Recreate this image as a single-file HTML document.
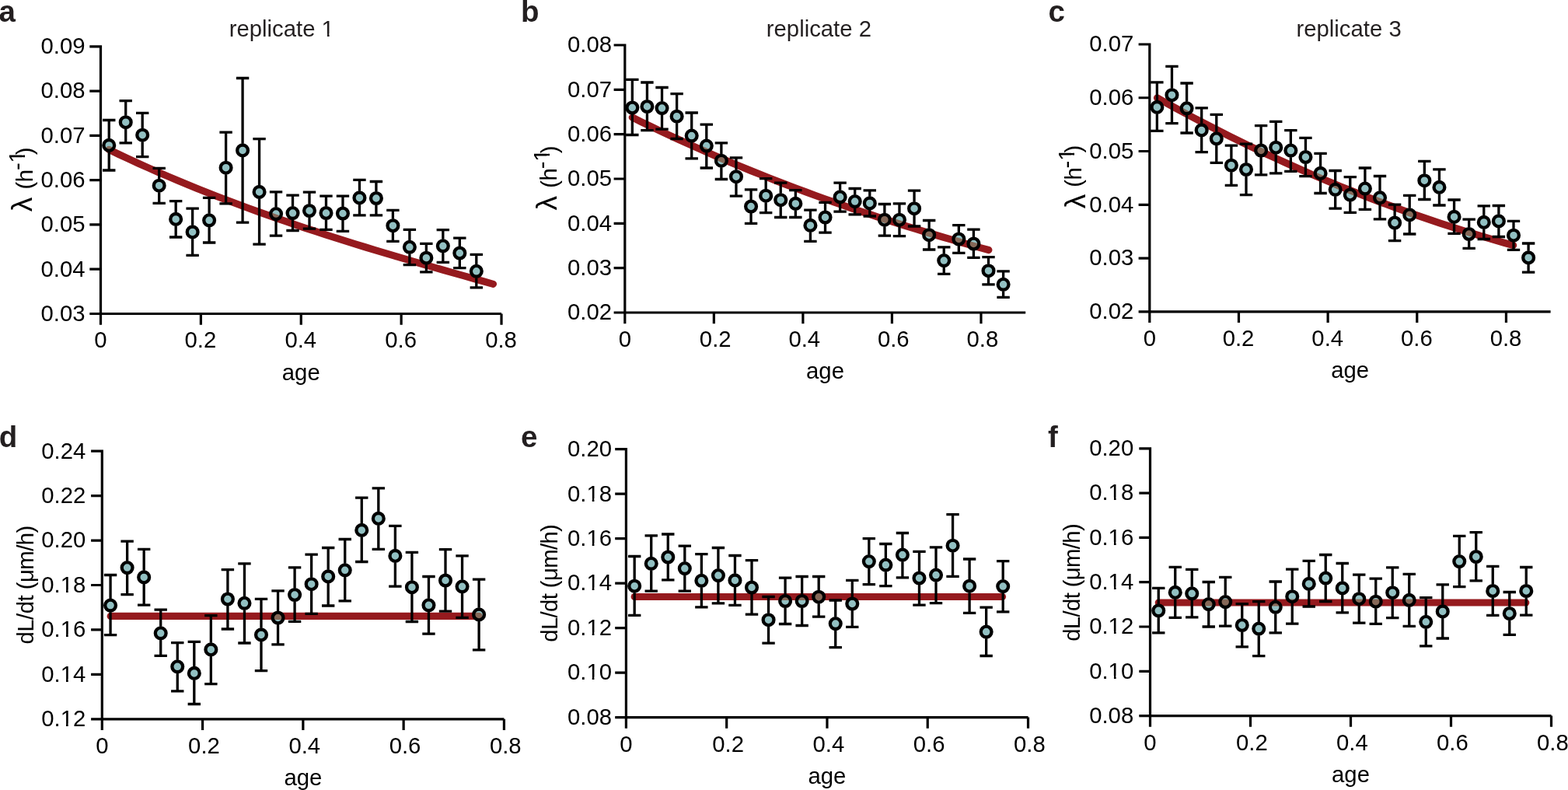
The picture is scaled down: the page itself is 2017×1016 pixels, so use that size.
<!DOCTYPE html><html><head><meta charset="utf-8"><title>Figure</title><style>html,body{margin:0;padding:0;background:#fff;width:2017px;height:1016px;overflow:hidden}svg{display:block}</style></head><body><svg width="2017" height="1016" viewBox="0 0 2017 1016" font-family="'Liberation Sans', Arial, Helvetica, sans-serif"><rect width="2017" height="1016" fill="#fff"/><defs><clipPath id="one" clipPathUnits="userSpaceOnUse"><rect x="-10" y="-40" width="50" height="36.21"/><rect x="7.37" y="-5" width="2.59" height="10"/></clipPath></defs><g id="pa"><path d="M140.2 192.45 L152.87 198.49 L165.54 204.4 L178.22 210.2 L190.89 215.88 L203.56 221.44 L216.23 226.9 L228.9 232.26 L241.57 237.5 L254.25 242.65 L266.92 247.7 L279.59 252.66 L292.26 257.53 L304.93 262.31 L317.61 267 L330.28 271.61 L342.95 276.14 L355.62 280.59 L368.29 284.97 L380.96 289.28 L393.64 293.53 L406.31 297.7 L418.98 301.82 L431.65 305.88 L444.32 309.88 L456.99 313.84 L469.67 317.74 L482.34 321.59 L495.01 325.4 L507.68 329.18 L520.35 332.91 L533.03 336.61 L545.7 340.28 L558.37 343.92 L571.04 347.53 L583.71 351.12 L596.38 354.69 L609.06 358.25 L621.73 361.79 L634.4 365.32" fill="none" stroke="#951a1e" stroke-width="9.2" stroke-linecap="round" stroke-linejoin="round"/><path d="M129.5 58.2 V417.7 M115.3 403.5 H645 M115.3 403.5 H129.5 M115.3 346.22 H129.5 M115.3 288.94 H129.5 M115.3 231.66 H129.5 M115.3 174.38 H129.5 M115.3 117.1 H129.5 M115.3 59.82 H129.5 M129.5 403.5 V417.7 M258.38 403.5 V417.7 M387.26 403.5 V417.7 M516.14 403.5 V417.7 M645.02 403.5 V417.7" fill="none" stroke="#000" stroke-width="3.2"/><path d="M140.24 154.5 V178.35 M140.24 195.45 V219 M132.04 154.5 H148.44 M132.04 219 H148.44 M161.72 129.6 V148.65 M161.72 165.75 V183.9 M153.52 129.6 H169.92 M153.52 183.9 H169.92 M183.2 145.4 V165.15 M183.2 182.25 V201.6 M175 145.4 H191.4 M175 201.6 H191.4 M204.68 216.3 V230.15 M204.68 247.25 V261.3 M196.48 216.3 H212.88 M196.48 261.3 H212.88 M226.16 258.6 V273.35 M226.16 290.45 V305 M217.96 258.6 H234.36 M217.96 305 H234.36 M247.64 268.2 V289.85 M247.64 306.95 V328.3 M239.44 268.2 H255.84 M239.44 328.3 H255.84 M269.12 254.4 V274.75 M269.12 291.85 V312 M260.92 254.4 H277.32 M260.92 312 H277.32 M290.6 170.1 V207.15 M290.6 224.25 V261.8 M282.4 170.1 H298.8 M282.4 261.8 H298.8 M312.08 100.5 V184.85 M312.08 201.95 V286.1 M303.88 100.5 H320.28 M303.88 286.1 H320.28 M333.56 178.6 V238.35 M333.56 255.45 V314.2 M325.36 178.6 H341.76 M325.36 314.2 H341.76 M355.04 246.9 V266.55 M355.04 283.65 V303.2 M346.84 246.9 H363.24 M346.84 303.2 H363.24 M376.52 251.1 V265.55 M376.52 282.65 V296.5 M368.32 251.1 H384.72 M368.32 296.5 H384.72 M398 247.1 V262.45 M398 279.55 V294.1 M389.8 247.1 H406.2 M389.8 294.1 H406.2 M419.48 252.2 V265.45 M419.48 282.55 V295.4 M411.28 252.2 H427.68 M411.28 295.4 H427.68 M440.96 252.2 V265.95 M440.96 283.05 V297.3 M432.76 252.2 H449.16 M432.76 297.3 H449.16 M462.44 231.4 V245.85 M462.44 262.95 V276.8 M454.24 231.4 H470.64 M454.24 276.8 H470.64 M483.92 233.5 V246.45 M483.92 263.55 V276.8 M475.72 233.5 H492.12 M475.72 276.8 H492.12 M505.4 270.3 V281.65 M505.4 298.75 V310.3 M497.2 270.3 H513.6 M497.2 310.3 H513.6 M526.88 295.4 V309.25 M526.88 326.35 V340.6 M518.68 295.4 H535.08 M518.68 340.6 H535.08 M548.36 313.4 V323.15 M548.36 340.25 V349.8 M540.16 313.4 H556.56 M540.16 349.8 H556.56 M569.84 295.7 V307.75 M569.84 324.85 V337.4 M561.64 295.7 H578.04 M561.64 337.4 H578.04 M591.32 306.1 V316.95 M591.32 334.05 V344.7 M583.12 306.1 H599.52 M583.12 344.7 H599.52 M612.8 327.4 V340.25 M612.8 357.35 V369.9 M604.6 327.4 H621 M604.6 369.9 H621" fill="none" stroke="#000" stroke-width="3.3"/><g fill="#92c0c2"><circle cx="140.24" cy="186.9" r="6.9"/><circle cx="161.72" cy="157.2" r="6.9"/><circle cx="183.2" cy="173.7" r="6.9"/><circle cx="204.68" cy="238.7" r="6.9"/><circle cx="226.16" cy="281.9" r="6.9"/><circle cx="247.64" cy="298.4" r="6.9"/><circle cx="269.12" cy="283.3" r="6.9"/><circle cx="290.6" cy="215.7" r="6.9"/><circle cx="312.08" cy="193.4" r="6.9"/><circle cx="333.56" cy="246.9" r="6.9"/><circle cx="355.04" cy="275.1" r="6.9"/><circle cx="376.52" cy="274.1" r="6.9"/><circle cx="398" cy="271" r="6.9"/><circle cx="419.48" cy="274" r="6.9"/><circle cx="440.96" cy="274.5" r="6.9"/><circle cx="462.44" cy="254.4" r="6.9"/><circle cx="483.92" cy="255" r="6.9"/><circle cx="505.4" cy="290.2" r="6.9"/><circle cx="526.88" cy="317.8" r="6.9"/><circle cx="548.36" cy="331.7" r="6.9"/><circle cx="569.84" cy="316.3" r="6.9"/><circle cx="591.32" cy="325.5" r="6.9"/><circle cx="612.8" cy="348.8" r="6.9"/></g><clipPath id="cpa"><circle cx="140.24" cy="186.9" r="6.9"/><circle cx="161.72" cy="157.2" r="6.9"/><circle cx="183.2" cy="173.7" r="6.9"/><circle cx="204.68" cy="238.7" r="6.9"/><circle cx="226.16" cy="281.9" r="6.9"/><circle cx="247.64" cy="298.4" r="6.9"/><circle cx="269.12" cy="283.3" r="6.9"/><circle cx="290.6" cy="215.7" r="6.9"/><circle cx="312.08" cy="193.4" r="6.9"/><circle cx="333.56" cy="246.9" r="6.9"/><circle cx="355.04" cy="275.1" r="6.9"/><circle cx="376.52" cy="274.1" r="6.9"/><circle cx="398" cy="271" r="6.9"/><circle cx="419.48" cy="274" r="6.9"/><circle cx="440.96" cy="274.5" r="6.9"/><circle cx="462.44" cy="254.4" r="6.9"/><circle cx="483.92" cy="255" r="6.9"/><circle cx="505.4" cy="290.2" r="6.9"/><circle cx="526.88" cy="317.8" r="6.9"/><circle cx="548.36" cy="331.7" r="6.9"/><circle cx="569.84" cy="316.3" r="6.9"/><circle cx="591.32" cy="325.5" r="6.9"/><circle cx="612.8" cy="348.8" r="6.9"/></clipPath><path d="M140.2 192.45 L152.87 198.49 L165.54 204.4 L178.22 210.2 L190.89 215.88 L203.56 221.44 L216.23 226.9 L228.9 232.26 L241.57 237.5 L254.25 242.65 L266.92 247.7 L279.59 252.66 L292.26 257.53 L304.93 262.31 L317.61 267 L330.28 271.61 L342.95 276.14 L355.62 280.59 L368.29 284.97 L380.96 289.28 L393.64 293.53 L406.31 297.7 L418.98 301.82 L431.65 305.88 L444.32 309.88 L456.99 313.84 L469.67 317.74 L482.34 321.59 L495.01 325.4 L507.68 329.18 L520.35 332.91 L533.03 336.61 L545.7 340.28 L558.37 343.92 L571.04 347.53 L583.71 351.12 L596.38 354.69 L609.06 358.25 L621.73 361.79 L634.4 365.32" fill="none" stroke="#866858" stroke-width="9.2" stroke-linecap="round" clip-path="url(#cpa)"/><g fill="none" stroke="#000" stroke-width="4.3"><circle cx="140.24" cy="186.9" r="6.9"/><circle cx="161.72" cy="157.2" r="6.9"/><circle cx="183.2" cy="173.7" r="6.9"/><circle cx="204.68" cy="238.7" r="6.9"/><circle cx="226.16" cy="281.9" r="6.9"/><circle cx="247.64" cy="298.4" r="6.9"/><circle cx="269.12" cy="283.3" r="6.9"/><circle cx="290.6" cy="215.7" r="6.9"/><circle cx="312.08" cy="193.4" r="6.9"/><circle cx="333.56" cy="246.9" r="6.9"/><circle cx="355.04" cy="275.1" r="6.9"/><circle cx="376.52" cy="274.1" r="6.9"/><circle cx="398" cy="271" r="6.9"/><circle cx="419.48" cy="274" r="6.9"/><circle cx="440.96" cy="274.5" r="6.9"/><circle cx="462.44" cy="254.4" r="6.9"/><circle cx="483.92" cy="255" r="6.9"/><circle cx="505.4" cy="290.2" r="6.9"/><circle cx="526.88" cy="317.8" r="6.9"/><circle cx="548.36" cy="331.7" r="6.9"/><circle cx="569.84" cy="316.3" r="6.9"/><circle cx="591.32" cy="325.5" r="6.9"/><circle cx="612.8" cy="348.8" r="6.9"/></g><g font-size="29.3" fill="#000"><text x="109.5" y="412.8" text-anchor="end">0.03</text><text x="109.5" y="355.52" text-anchor="end">0.04</text><text x="109.5" y="298.24" text-anchor="end">0.05</text><text x="109.5" y="240.96" text-anchor="end">0.06</text><text x="109.5" y="183.68" text-anchor="end">0.07</text><text x="109.5" y="126.4" text-anchor="end">0.08</text><text x="109.5" y="69.12" text-anchor="end">0.09</text><text x="129.5" y="447.4" text-anchor="middle">0</text><text x="257.88" y="447.4" text-anchor="middle">0.2</text><text x="386.76" y="447.4" text-anchor="middle">0.4</text><text x="515.64" y="447.4" text-anchor="middle">0.6</text><text x="644.52" y="447.4" text-anchor="middle">0.8</text><text x="387.25" y="488.5" text-anchor="middle">age</text></g><g font-size="29.3" fill="#231f20"><clipPath id="k1"><path clip-rule="evenodd" d="M0 0H2017V1016H0ZM415.03 43.11H420.92V47.5H415.03ZM423.6 43.11H429.26V47.5H423.6Z"/></clipPath><text x="362.3" y="46.7" text-anchor="middle" clip-path="url(#k1)">replicate 1</text></g><text x="-1.5" y="27.5" font-size="38.5" font-weight="bold" fill="#231f20">a</text><text transform="translate(41.4 272.25) rotate(-90)" font-size="37.3" fill="#000">&#955;</text><text transform="translate(41.7 243.52) rotate(-90)" font-size="29.3" fill="#000">(</text><text transform="translate(41.5 234.23) rotate(-90)" font-size="29.3" fill="#000">h</text><text transform="translate(32.3 219.1) rotate(-90)" font-size="29.3" fill="#000">-</text><text transform="translate(32.3 209.53) rotate(-90)" font-size="29.3" fill="#000" clip-path="url(#one)">1</text><text transform="translate(41.7 199.17) rotate(-90)" font-size="29.3" fill="#000">)</text></g><g id="pb"><path d="M813.3 150.99 L825.06 156.76 L836.81 162.45 L848.57 168.06 L860.33 173.58 L872.08 179.02 L883.84 184.37 L895.59 189.64 L907.35 194.83 L919.11 199.95 L930.86 204.98 L942.62 209.94 L954.38 214.82 L966.13 219.62 L977.89 224.35 L989.65 229.01 L1001.4 233.59 L1013.16 238.11 L1024.92 242.55 L1036.67 246.92 L1048.43 251.23 L1060.18 255.47 L1071.94 259.64 L1083.7 263.75 L1095.45 267.8 L1107.21 271.78 L1118.97 275.7 L1130.72 279.56 L1142.48 283.37 L1154.24 287.11 L1165.99 290.79 L1177.75 294.42 L1189.51 298 L1201.26 301.52 L1213.02 304.98 L1224.77 308.4 L1236.53 311.76 L1248.29 315.08 L1260.04 318.34 L1271.8 321.56" fill="none" stroke="#951a1e" stroke-width="9.2" stroke-linecap="round" stroke-linejoin="round"/><path d="M803.8 56.4 V416.2 M789.6 402 H1319.2 M789.6 402 H803.8 M789.6 344.67 H803.8 M789.6 287.34 H803.8 M789.6 230.01 H803.8 M789.6 172.68 H803.8 M789.6 115.35 H803.8 M789.6 58.02 H803.8 M803.8 402 V416.2 M918.34 402 V416.2 M1032.88 402 V416.2 M1147.42 402 V416.2 M1261.96 402 V416.2" fill="none" stroke="#000" stroke-width="3.2"/><path d="M813.34 102.3 V129.95 M813.34 147.05 V173.5 M805.14 102.3 H821.54 M805.14 173.5 H821.54 M832.43 106 V128.45 M832.43 145.55 V167.7 M824.23 106 H840.63 M824.23 167.7 H840.63 M851.52 112.5 V130.55 M851.52 147.65 V166.2 M843.32 112.5 H859.73 M843.32 166.2 H859.73 M870.62 120.7 V141.15 M870.62 158.25 V178.5 M862.41 120.7 H878.82 M862.41 178.5 H878.82 M889.7 145 V166.05 M889.7 183.15 V203.8 M881.5 145 H897.9 M881.5 203.8 H897.9 M908.79 160.1 V179.05 M908.79 196.15 V216 M900.59 160.1 H917 M900.59 216 H917 M927.88 183.9 V198.15 M927.88 215.25 V230.5 M919.68 183.9 H936.09 M919.68 230.5 H936.09 M946.97 202.9 V218.65 M946.97 235.75 V252.1 M938.77 202.9 H955.17 M938.77 252.1 H955.17 M966.06 243.8 V256.95 M966.06 274.05 V287.4 M957.86 243.8 H974.26 M957.86 287.4 H974.26 M985.15 229.6 V243.15 M985.15 260.25 V273.7 M976.95 229.6 H993.36 M976.95 273.7 H993.36 M1004.24 235.1 V248.65 M1004.24 265.75 V279.5 M996.04 235.1 H1012.44 M996.04 279.5 H1012.44 M1023.34 244.6 V253.35 M1023.34 270.45 V279.5 M1015.13 244.6 H1031.54 M1015.13 279.5 H1031.54 M1042.42 270.1 V281.35 M1042.42 298.45 V310.4 M1034.22 270.1 H1050.62 M1034.22 310.4 H1050.62 M1061.51 260.3 V270.95 M1061.51 288.05 V299.2 M1053.31 260.3 H1069.71 M1053.31 299.2 H1069.71 M1080.61 235.1 V244.75 M1080.61 261.85 V272.1 M1072.4 235.1 H1088.81 M1072.4 272.1 H1088.81 M1099.69 242.5 V250.55 M1099.69 267.65 V275.9 M1091.49 242.5 H1107.89 M1091.49 275.9 H1107.89 M1118.79 244.9 V252.85 M1118.79 269.95 V278 M1110.59 244.9 H1126.99 M1110.59 278 H1126.99 M1137.88 262.5 V274.15 M1137.88 291.25 V303.1 M1129.67 262.5 H1146.08 M1129.67 303.1 H1146.08 M1156.96 261.9 V274.15 M1156.96 291.25 V303.6 M1148.76 261.9 H1165.16 M1148.76 303.6 H1165.16 M1176.06 245.2 V259.65 M1176.06 276.75 V291 M1167.86 245.2 H1184.26 M1167.86 291 H1184.26 M1195.14 283.5 V293.65 M1195.14 310.75 V321 M1186.94 283.5 H1203.35 M1186.94 321 H1203.35 M1214.24 317.9 V326.55 M1214.24 343.65 V352.3 M1206.04 317.9 H1222.44 M1206.04 352.3 H1222.44 M1233.33 289.7 V298.95 M1233.33 316.05 V325.4 M1225.12 289.7 H1241.53 M1225.12 325.4 H1241.53 M1252.41 295.1 V304.95 M1252.41 322.05 V331.4 M1244.21 295.1 H1260.62 M1244.21 331.4 H1260.62 M1271.51 330.7 V339.65 M1271.51 356.75 V365.8 M1263.31 330.7 H1279.71 M1263.31 365.8 H1279.71 M1290.6 348.9 V357.25 M1290.6 374.35 V382.4 M1282.39 348.9 H1298.8 M1282.39 382.4 H1298.8" fill="none" stroke="#000" stroke-width="3.3"/><g fill="#92c0c2"><circle cx="813.34" cy="138.5" r="6.9"/><circle cx="832.43" cy="137" r="6.9"/><circle cx="851.52" cy="139.1" r="6.9"/><circle cx="870.62" cy="149.7" r="6.9"/><circle cx="889.7" cy="174.6" r="6.9"/><circle cx="908.79" cy="187.6" r="6.9"/><circle cx="927.88" cy="206.7" r="6.9"/><circle cx="946.97" cy="227.2" r="6.9"/><circle cx="966.06" cy="265.5" r="6.9"/><circle cx="985.15" cy="251.7" r="6.9"/><circle cx="1004.24" cy="257.2" r="6.9"/><circle cx="1023.34" cy="261.9" r="6.9"/><circle cx="1042.42" cy="289.9" r="6.9"/><circle cx="1061.51" cy="279.5" r="6.9"/><circle cx="1080.61" cy="253.3" r="6.9"/><circle cx="1099.69" cy="259.1" r="6.9"/><circle cx="1118.79" cy="261.4" r="6.9"/><circle cx="1137.88" cy="282.7" r="6.9"/><circle cx="1156.96" cy="282.7" r="6.9"/><circle cx="1176.06" cy="268.2" r="6.9"/><circle cx="1195.14" cy="302.2" r="6.9"/><circle cx="1214.24" cy="335.1" r="6.9"/><circle cx="1233.33" cy="307.5" r="6.9"/><circle cx="1252.41" cy="313.5" r="6.9"/><circle cx="1271.51" cy="348.2" r="6.9"/><circle cx="1290.6" cy="365.8" r="6.9"/></g><clipPath id="cpb"><circle cx="813.34" cy="138.5" r="6.9"/><circle cx="832.43" cy="137" r="6.9"/><circle cx="851.52" cy="139.1" r="6.9"/><circle cx="870.62" cy="149.7" r="6.9"/><circle cx="889.7" cy="174.6" r="6.9"/><circle cx="908.79" cy="187.6" r="6.9"/><circle cx="927.88" cy="206.7" r="6.9"/><circle cx="946.97" cy="227.2" r="6.9"/><circle cx="966.06" cy="265.5" r="6.9"/><circle cx="985.15" cy="251.7" r="6.9"/><circle cx="1004.24" cy="257.2" r="6.9"/><circle cx="1023.34" cy="261.9" r="6.9"/><circle cx="1042.42" cy="289.9" r="6.9"/><circle cx="1061.51" cy="279.5" r="6.9"/><circle cx="1080.61" cy="253.3" r="6.9"/><circle cx="1099.69" cy="259.1" r="6.9"/><circle cx="1118.79" cy="261.4" r="6.9"/><circle cx="1137.88" cy="282.7" r="6.9"/><circle cx="1156.96" cy="282.7" r="6.9"/><circle cx="1176.06" cy="268.2" r="6.9"/><circle cx="1195.14" cy="302.2" r="6.9"/><circle cx="1214.24" cy="335.1" r="6.9"/><circle cx="1233.33" cy="307.5" r="6.9"/><circle cx="1252.41" cy="313.5" r="6.9"/><circle cx="1271.51" cy="348.2" r="6.9"/><circle cx="1290.6" cy="365.8" r="6.9"/></clipPath><path d="M813.3 150.99 L825.06 156.76 L836.81 162.45 L848.57 168.06 L860.33 173.58 L872.08 179.02 L883.84 184.37 L895.59 189.64 L907.35 194.83 L919.11 199.95 L930.86 204.98 L942.62 209.94 L954.38 214.82 L966.13 219.62 L977.89 224.35 L989.65 229.01 L1001.4 233.59 L1013.16 238.11 L1024.92 242.55 L1036.67 246.92 L1048.43 251.23 L1060.18 255.47 L1071.94 259.64 L1083.7 263.75 L1095.45 267.8 L1107.21 271.78 L1118.97 275.7 L1130.72 279.56 L1142.48 283.37 L1154.24 287.11 L1165.99 290.79 L1177.75 294.42 L1189.51 298 L1201.26 301.52 L1213.02 304.98 L1224.77 308.4 L1236.53 311.76 L1248.29 315.08 L1260.04 318.34 L1271.8 321.56" fill="none" stroke="#866858" stroke-width="9.2" stroke-linecap="round" clip-path="url(#cpb)"/><g fill="none" stroke="#000" stroke-width="4.3"><circle cx="813.34" cy="138.5" r="6.9"/><circle cx="832.43" cy="137" r="6.9"/><circle cx="851.52" cy="139.1" r="6.9"/><circle cx="870.62" cy="149.7" r="6.9"/><circle cx="889.7" cy="174.6" r="6.9"/><circle cx="908.79" cy="187.6" r="6.9"/><circle cx="927.88" cy="206.7" r="6.9"/><circle cx="946.97" cy="227.2" r="6.9"/><circle cx="966.06" cy="265.5" r="6.9"/><circle cx="985.15" cy="251.7" r="6.9"/><circle cx="1004.24" cy="257.2" r="6.9"/><circle cx="1023.34" cy="261.9" r="6.9"/><circle cx="1042.42" cy="289.9" r="6.9"/><circle cx="1061.51" cy="279.5" r="6.9"/><circle cx="1080.61" cy="253.3" r="6.9"/><circle cx="1099.69" cy="259.1" r="6.9"/><circle cx="1118.79" cy="261.4" r="6.9"/><circle cx="1137.88" cy="282.7" r="6.9"/><circle cx="1156.96" cy="282.7" r="6.9"/><circle cx="1176.06" cy="268.2" r="6.9"/><circle cx="1195.14" cy="302.2" r="6.9"/><circle cx="1214.24" cy="335.1" r="6.9"/><circle cx="1233.33" cy="307.5" r="6.9"/><circle cx="1252.41" cy="313.5" r="6.9"/><circle cx="1271.51" cy="348.2" r="6.9"/><circle cx="1290.6" cy="365.8" r="6.9"/></g><g font-size="29.3" fill="#000"><text x="787.1" y="411.3" text-anchor="end">0.02</text><text x="787.1" y="353.97" text-anchor="end">0.03</text><text x="787.1" y="296.64" text-anchor="end">0.04</text><text x="787.1" y="239.31" text-anchor="end">0.05</text><text x="787.1" y="181.98" text-anchor="end">0.06</text><text x="787.1" y="124.65" text-anchor="end">0.07</text><text x="787.1" y="67.32" text-anchor="end">0.08</text><text x="803.8" y="445.9" text-anchor="middle">0</text><text x="920.24" y="445.9" text-anchor="middle">0.2</text><text x="1034.78" y="445.9" text-anchor="middle">0.4</text><text x="1149.32" y="445.9" text-anchor="middle">0.6</text><text x="1263.86" y="445.9" text-anchor="middle">0.8</text><text x="1061.5" y="487" text-anchor="middle">age</text></g><g font-size="29.3" fill="#231f20"><text x="1053.4" y="46.7" text-anchor="middle">replicate 2</text></g><text x="670" y="27.5" font-size="38.5" font-weight="bold" fill="#231f20">b</text><text transform="translate(716.2 270.45) rotate(-90)" font-size="37.3" fill="#000">&#955;</text><text transform="translate(716.5 241.72) rotate(-90)" font-size="29.3" fill="#000">(</text><text transform="translate(716.3 232.43) rotate(-90)" font-size="29.3" fill="#000">h</text><text transform="translate(707.1 217.3) rotate(-90)" font-size="29.3" fill="#000">-</text><text transform="translate(707.1 207.73) rotate(-90)" font-size="29.3" fill="#000" clip-path="url(#one)">1</text><text transform="translate(716.5 197.37) rotate(-90)" font-size="29.3" fill="#000">)</text></g><g id="pc"><path d="M1488.5 125.89 L1500.25 132.42 L1511.99 138.85 L1523.74 145.2 L1535.48 151.45 L1547.23 157.62 L1558.98 163.69 L1570.72 169.67 L1582.47 175.57 L1594.22 181.37 L1605.96 187.08 L1617.71 192.71 L1629.45 198.24 L1641.2 203.69 L1652.95 209.05 L1664.69 214.32 L1676.44 219.51 L1688.18 224.6 L1699.93 229.62 L1711.68 234.54 L1723.42 239.38 L1735.17 244.13 L1746.92 248.8 L1758.66 253.39 L1770.41 257.89 L1782.15 262.3 L1793.9 266.63 L1805.65 270.88 L1817.39 275.05 L1829.14 279.13 L1840.88 283.13 L1852.63 287.05 L1864.38 290.89 L1876.12 294.64 L1887.87 298.32 L1899.62 301.91 L1911.36 305.43 L1923.11 308.86 L1934.85 312.22 L1946.6 315.49" fill="none" stroke="#951a1e" stroke-width="9.2" stroke-linecap="round" stroke-linejoin="round"/><path d="M1478.8 55.4 V415 M1464.6 400.8 H1994.6 M1464.6 400.8 H1478.8 M1464.6 332.04 H1478.8 M1464.6 263.28 H1478.8 M1464.6 194.52 H1478.8 M1464.6 125.76 H1478.8 M1464.6 57 H1478.8 M1478.8 400.8 V415 M1593.46 400.8 V415 M1708.12 400.8 V415 M1822.78 400.8 V415 M1937.44 400.8 V415" fill="none" stroke="#000" stroke-width="3.2"/><path d="M1488.36 105.8 V129.35 M1488.36 146.45 V168.4 M1480.15 105.8 H1496.56 M1480.15 168.4 H1496.56 M1507.46 85.4 V113.65 M1507.46 130.75 V158.6 M1499.26 85.4 H1515.66 M1499.26 158.6 H1515.66 M1526.58 107 V130.75 M1526.58 147.85 V171 M1518.38 107 H1534.78 M1518.38 171 H1534.78 M1545.68 138.9 V158.85 M1545.68 175.95 V195.6 M1537.48 138.9 H1553.88 M1537.48 195.6 H1553.88 M1564.79 147.4 V169.75 M1564.79 186.85 V209.4 M1556.59 147.4 H1572.99 M1556.59 209.4 H1572.99 M1583.9 187.1 V204.15 M1583.9 221.25 V238.3 M1575.7 187.1 H1592.11 M1575.7 238.3 H1592.11 M1603.01 185.2 V209.45 M1603.01 226.55 V250.7 M1594.81 185.2 H1611.21 M1594.81 250.7 H1611.21 M1622.12 161.7 V184.95 M1622.12 202.05 V224.8 M1613.92 161.7 H1630.33 M1613.92 224.8 H1630.33 M1641.23 156.4 V181.15 M1641.23 198.25 V222.9 M1633.03 156.4 H1649.43 M1633.03 222.9 H1649.43 M1660.35 167.7 V185.05 M1660.35 202.15 V220.4 M1652.14 167.7 H1668.55 M1652.14 220.4 H1668.55 M1679.45 177.4 V193.45 M1679.45 210.55 V226.7 M1671.25 177.4 H1687.65 M1671.25 226.7 H1687.65 M1698.57 197.3 V214.35 M1698.57 231.45 V248.5 M1690.37 197.3 H1706.77 M1690.37 248.5 H1706.77 M1717.67 219.5 V235.25 M1717.67 252.35 V268.1 M1709.47 219.5 H1725.88 M1709.47 268.1 H1725.88 M1736.78 227.6 V241.95 M1736.78 259.05 V273.4 M1728.58 227.6 H1744.98 M1728.58 273.4 H1744.98 M1755.89 216 V234.05 M1755.89 251.15 V269.4 M1747.69 216 H1764.1 M1747.69 269.4 H1764.1 M1775 226.5 V245.75 M1775 262.85 V281.8 M1766.8 226.5 H1783.2 M1766.8 281.8 H1783.2 M1794.12 263.2 V277.95 M1794.12 295.05 V309.7 M1785.91 263.2 H1802.32 M1785.91 309.7 H1802.32 M1813.22 251.4 V267.75 M1813.22 284.85 V301 M1805.02 251.4 H1821.42 M1805.02 301 H1821.42 M1832.34 207.3 V223.65 M1832.34 240.75 V256.5 M1824.13 207.3 H1840.54 M1824.13 256.5 H1840.54 M1851.44 217.9 V232.35 M1851.44 249.45 V264 M1843.24 217.9 H1859.64 M1843.24 264 H1859.64 M1870.55 257 V270.35 M1870.55 287.45 V300.3 M1862.35 257 H1878.75 M1862.35 300.3 H1878.75 M1889.66 282.2 V292.45 M1889.66 309.55 V319.3 M1881.46 282.2 H1897.87 M1881.46 319.3 H1897.87 M1908.77 264.8 V277.35 M1908.77 294.45 V307.5 M1900.57 264.8 H1916.97 M1900.57 307.5 H1916.97 M1927.88 264.5 V275.85 M1927.88 292.95 V304.5 M1919.68 264.5 H1936.09 M1919.68 304.5 H1936.09 M1946.99 284.4 V294.15 M1946.99 311.25 V321.3 M1938.79 284.4 H1955.19 M1938.79 321.3 H1955.19 M1966.11 313 V322.85 M1966.11 339.95 V350.2 M1957.9 313 H1974.31 M1957.9 350.2 H1974.31" fill="none" stroke="#000" stroke-width="3.3"/><g fill="#92c0c2"><circle cx="1488.36" cy="137.9" r="6.9"/><circle cx="1507.46" cy="122.2" r="6.9"/><circle cx="1526.58" cy="139.3" r="6.9"/><circle cx="1545.68" cy="167.4" r="6.9"/><circle cx="1564.79" cy="178.3" r="6.9"/><circle cx="1583.9" cy="212.7" r="6.9"/><circle cx="1603.01" cy="218" r="6.9"/><circle cx="1622.12" cy="193.5" r="6.9"/><circle cx="1641.23" cy="189.7" r="6.9"/><circle cx="1660.35" cy="193.6" r="6.9"/><circle cx="1679.45" cy="202" r="6.9"/><circle cx="1698.57" cy="222.9" r="6.9"/><circle cx="1717.67" cy="243.8" r="6.9"/><circle cx="1736.78" cy="250.5" r="6.9"/><circle cx="1755.89" cy="242.6" r="6.9"/><circle cx="1775" cy="254.3" r="6.9"/><circle cx="1794.12" cy="286.5" r="6.9"/><circle cx="1813.22" cy="276.3" r="6.9"/><circle cx="1832.34" cy="232.2" r="6.9"/><circle cx="1851.44" cy="240.9" r="6.9"/><circle cx="1870.55" cy="278.9" r="6.9"/><circle cx="1889.66" cy="301" r="6.9"/><circle cx="1908.77" cy="285.9" r="6.9"/><circle cx="1927.88" cy="284.4" r="6.9"/><circle cx="1946.99" cy="302.7" r="6.9"/><circle cx="1966.11" cy="331.4" r="6.9"/></g><clipPath id="cpc"><circle cx="1488.36" cy="137.9" r="6.9"/><circle cx="1507.46" cy="122.2" r="6.9"/><circle cx="1526.58" cy="139.3" r="6.9"/><circle cx="1545.68" cy="167.4" r="6.9"/><circle cx="1564.79" cy="178.3" r="6.9"/><circle cx="1583.9" cy="212.7" r="6.9"/><circle cx="1603.01" cy="218" r="6.9"/><circle cx="1622.12" cy="193.5" r="6.9"/><circle cx="1641.23" cy="189.7" r="6.9"/><circle cx="1660.35" cy="193.6" r="6.9"/><circle cx="1679.45" cy="202" r="6.9"/><circle cx="1698.57" cy="222.9" r="6.9"/><circle cx="1717.67" cy="243.8" r="6.9"/><circle cx="1736.78" cy="250.5" r="6.9"/><circle cx="1755.89" cy="242.6" r="6.9"/><circle cx="1775" cy="254.3" r="6.9"/><circle cx="1794.12" cy="286.5" r="6.9"/><circle cx="1813.22" cy="276.3" r="6.9"/><circle cx="1832.34" cy="232.2" r="6.9"/><circle cx="1851.44" cy="240.9" r="6.9"/><circle cx="1870.55" cy="278.9" r="6.9"/><circle cx="1889.66" cy="301" r="6.9"/><circle cx="1908.77" cy="285.9" r="6.9"/><circle cx="1927.88" cy="284.4" r="6.9"/><circle cx="1946.99" cy="302.7" r="6.9"/><circle cx="1966.11" cy="331.4" r="6.9"/></clipPath><path d="M1488.5 125.89 L1500.25 132.42 L1511.99 138.85 L1523.74 145.2 L1535.48 151.45 L1547.23 157.62 L1558.98 163.69 L1570.72 169.67 L1582.47 175.57 L1594.22 181.37 L1605.96 187.08 L1617.71 192.71 L1629.45 198.24 L1641.2 203.69 L1652.95 209.05 L1664.69 214.32 L1676.44 219.51 L1688.18 224.6 L1699.93 229.62 L1711.68 234.54 L1723.42 239.38 L1735.17 244.13 L1746.92 248.8 L1758.66 253.39 L1770.41 257.89 L1782.15 262.3 L1793.9 266.63 L1805.65 270.88 L1817.39 275.05 L1829.14 279.13 L1840.88 283.13 L1852.63 287.05 L1864.38 290.89 L1876.12 294.64 L1887.87 298.32 L1899.62 301.91 L1911.36 305.43 L1923.11 308.86 L1934.85 312.22 L1946.6 315.49" fill="none" stroke="#866858" stroke-width="9.2" stroke-linecap="round" clip-path="url(#cpc)"/><g fill="none" stroke="#000" stroke-width="4.3"><circle cx="1488.36" cy="137.9" r="6.9"/><circle cx="1507.46" cy="122.2" r="6.9"/><circle cx="1526.58" cy="139.3" r="6.9"/><circle cx="1545.68" cy="167.4" r="6.9"/><circle cx="1564.79" cy="178.3" r="6.9"/><circle cx="1583.9" cy="212.7" r="6.9"/><circle cx="1603.01" cy="218" r="6.9"/><circle cx="1622.12" cy="193.5" r="6.9"/><circle cx="1641.23" cy="189.7" r="6.9"/><circle cx="1660.35" cy="193.6" r="6.9"/><circle cx="1679.45" cy="202" r="6.9"/><circle cx="1698.57" cy="222.9" r="6.9"/><circle cx="1717.67" cy="243.8" r="6.9"/><circle cx="1736.78" cy="250.5" r="6.9"/><circle cx="1755.89" cy="242.6" r="6.9"/><circle cx="1775" cy="254.3" r="6.9"/><circle cx="1794.12" cy="286.5" r="6.9"/><circle cx="1813.22" cy="276.3" r="6.9"/><circle cx="1832.34" cy="232.2" r="6.9"/><circle cx="1851.44" cy="240.9" r="6.9"/><circle cx="1870.55" cy="278.9" r="6.9"/><circle cx="1889.66" cy="301" r="6.9"/><circle cx="1908.77" cy="285.9" r="6.9"/><circle cx="1927.88" cy="284.4" r="6.9"/><circle cx="1946.99" cy="302.7" r="6.9"/><circle cx="1966.11" cy="331.4" r="6.9"/></g><g font-size="29.3" fill="#000"><text x="1458.3" y="410.1" text-anchor="end">0.02</text><text x="1458.3" y="341.34" text-anchor="end">0.03</text><text x="1458.3" y="272.58" text-anchor="end">0.04</text><text x="1458.3" y="203.82" text-anchor="end">0.05</text><text x="1458.3" y="135.06" text-anchor="end">0.06</text><text x="1458.3" y="66.3" text-anchor="end">0.07</text><text x="1478.8" y="444.7" text-anchor="middle">0</text><text x="1593.06" y="444.7" text-anchor="middle">0.2</text><text x="1707.72" y="444.7" text-anchor="middle">0.4</text><text x="1822.38" y="444.7" text-anchor="middle">0.6</text><text x="1937.04" y="444.7" text-anchor="middle">0.8</text><text x="1736.7" y="485.8" text-anchor="middle">age</text></g><g font-size="29.3" fill="#231f20"><text x="1735.1" y="46.7" text-anchor="middle">replicate 3</text></g><text x="1348.6" y="27.5" font-size="38.5" font-weight="bold" fill="#231f20">c</text><text transform="translate(1396 268.35) rotate(-90)" font-size="37.3" fill="#000">&#955;</text><text transform="translate(1391.3 240.82) rotate(-90)" font-size="29.3" fill="#000">(</text><text transform="translate(1391.1 231.53) rotate(-90)" font-size="29.3" fill="#000">h</text><text transform="translate(1381.9 216.4) rotate(-90)" font-size="29.3" fill="#000">-</text><text transform="translate(1381.9 206.83) rotate(-90)" font-size="29.3" fill="#000" clip-path="url(#one)">1</text><text transform="translate(1391.3 196.47) rotate(-90)" font-size="29.3" fill="#000">)</text></g><g id="pd"><path d="M142.2 792.4 L616.2 792.4" fill="none" stroke="#951a1e" stroke-width="9.2" stroke-linecap="round" stroke-linejoin="round"/><path d="M131.3 578.6 V939 M117.1 924.8 H648.4 M117.1 924.8 H131.3 M117.1 867.37 H131.3 M117.1 809.94 H131.3 M117.1 752.51 H131.3 M117.1 695.08 H131.3 M117.1 637.65 H131.3 M117.1 580.22 H131.3 M131.3 924.8 V939 M260.58 924.8 V939 M389.86 924.8 V939 M519.14 924.8 V939 M648.42 924.8 V939" fill="none" stroke="#000" stroke-width="3.2"/><path d="M142.07 739.5 V770.05 M142.07 787.15 V816.7 M133.87 739.5 H150.27 M133.87 816.7 H150.27 M163.62 696.2 V721.55 M163.62 738.65 V764.6 M155.42 696.2 H171.82 M155.42 764.6 H171.82 M185.17 706.3 V733.85 M185.17 750.95 V778.1 M176.97 706.3 H193.37 M176.97 778.1 H193.37 M206.71 784.2 V805.75 M206.71 822.85 V843.3 M198.51 784.2 H214.91 M198.51 843.3 H214.91 M228.26 826.6 V848.75 M228.26 865.85 V888.8 M220.06 826.6 H236.46 M220.06 888.8 H236.46 M249.81 825.3 V857.35 M249.81 874.45 V905.5 M241.61 825.3 H258.01 M241.61 905.5 H258.01 M271.35 791.6 V826.85 M271.35 843.95 V879.7 M263.15 791.6 H279.55 M263.15 879.7 H279.55 M292.9 732.7 V761.95 M292.9 779.05 V809 M284.7 732.7 H301.1 M284.7 809 H301.1 M314.45 724.9 V767.25 M314.45 784.35 V827 M306.25 724.9 H322.65 M306.25 827 H322.65 M335.99 770.4 V807.85 M335.99 824.95 V862.6 M327.79 770.4 H344.19 M327.79 862.6 H344.19 M357.54 759.8 V785.95 M357.54 803.05 V828.9 M349.34 759.8 H365.74 M349.34 828.9 H365.74 M379.09 729.8 V756.45 M379.09 773.55 V799.4 M370.89 729.8 H387.29 M370.89 799.4 H387.29 M400.63 713.1 V742.65 M400.63 759.75 V789.3 M392.43 713.1 H408.83 M392.43 789.3 H408.83 M422.18 704.5 V732.85 M422.18 749.95 V779 M413.98 704.5 H430.38 M413.98 779 H430.38 M443.73 693.5 V724.75 M443.73 741.85 V772.9 M435.53 693.5 H451.93 M435.53 772.9 H451.93 M465.27 640.1 V673.35 M465.27 690.45 V722.5 M457.07 640.1 H473.47 M457.07 722.5 H473.47 M486.82 627.8 V658.35 M486.82 675.45 V706.3 M478.62 627.8 H495.02 M478.62 706.3 H495.02 M508.37 676.3 V706.35 M508.37 723.45 V754.2 M500.17 676.3 H516.57 M500.17 754.2 H516.57 M529.91 710.3 V746.65 M529.91 763.75 V799.5 M521.71 710.3 H538.11 M521.71 799.5 H538.11 M551.46 741.5 V769.75 M551.46 786.85 V815.2 M543.26 741.5 H559.66 M543.26 815.2 H559.66 M573.01 706.7 V737.95 M573.01 755.05 V786.2 M564.81 706.7 H581.21 M564.81 786.2 H581.21 M594.55 714.9 V745.75 M594.55 762.85 V794.3 M586.35 714.9 H602.75 M586.35 794.3 H602.75 M616.1 745.2 V781.85 M616.1 798.95 V835.9 M607.9 745.2 H624.3 M607.9 835.9 H624.3" fill="none" stroke="#000" stroke-width="3.3"/><g fill="#92c0c2"><circle cx="142.07" cy="778.6" r="6.9"/><circle cx="163.62" cy="730.1" r="6.9"/><circle cx="185.17" cy="742.4" r="6.9"/><circle cx="206.71" cy="814.3" r="6.9"/><circle cx="228.26" cy="857.3" r="6.9"/><circle cx="249.81" cy="865.9" r="6.9"/><circle cx="271.35" cy="835.4" r="6.9"/><circle cx="292.9" cy="770.5" r="6.9"/><circle cx="314.45" cy="775.8" r="6.9"/><circle cx="335.99" cy="816.4" r="6.9"/><circle cx="357.54" cy="794.5" r="6.9"/><circle cx="379.09" cy="765" r="6.9"/><circle cx="400.63" cy="751.2" r="6.9"/><circle cx="422.18" cy="741.4" r="6.9"/><circle cx="443.73" cy="733.3" r="6.9"/><circle cx="465.27" cy="681.9" r="6.9"/><circle cx="486.82" cy="666.9" r="6.9"/><circle cx="508.37" cy="714.9" r="6.9"/><circle cx="529.91" cy="755.2" r="6.9"/><circle cx="551.46" cy="778.3" r="6.9"/><circle cx="573.01" cy="746.5" r="6.9"/><circle cx="594.55" cy="754.3" r="6.9"/><circle cx="616.1" cy="790.4" r="6.9"/></g><clipPath id="cpd"><circle cx="142.07" cy="778.6" r="6.9"/><circle cx="163.62" cy="730.1" r="6.9"/><circle cx="185.17" cy="742.4" r="6.9"/><circle cx="206.71" cy="814.3" r="6.9"/><circle cx="228.26" cy="857.3" r="6.9"/><circle cx="249.81" cy="865.9" r="6.9"/><circle cx="271.35" cy="835.4" r="6.9"/><circle cx="292.9" cy="770.5" r="6.9"/><circle cx="314.45" cy="775.8" r="6.9"/><circle cx="335.99" cy="816.4" r="6.9"/><circle cx="357.54" cy="794.5" r="6.9"/><circle cx="379.09" cy="765" r="6.9"/><circle cx="400.63" cy="751.2" r="6.9"/><circle cx="422.18" cy="741.4" r="6.9"/><circle cx="443.73" cy="733.3" r="6.9"/><circle cx="465.27" cy="681.9" r="6.9"/><circle cx="486.82" cy="666.9" r="6.9"/><circle cx="508.37" cy="714.9" r="6.9"/><circle cx="529.91" cy="755.2" r="6.9"/><circle cx="551.46" cy="778.3" r="6.9"/><circle cx="573.01" cy="746.5" r="6.9"/><circle cx="594.55" cy="754.3" r="6.9"/><circle cx="616.1" cy="790.4" r="6.9"/></clipPath><path d="M142.2 792.4 L616.2 792.4" fill="none" stroke="#866858" stroke-width="9.2" stroke-linecap="round" clip-path="url(#cpd)"/><g fill="none" stroke="#000" stroke-width="4.3"><circle cx="142.07" cy="778.6" r="6.9"/><circle cx="163.62" cy="730.1" r="6.9"/><circle cx="185.17" cy="742.4" r="6.9"/><circle cx="206.71" cy="814.3" r="6.9"/><circle cx="228.26" cy="857.3" r="6.9"/><circle cx="249.81" cy="865.9" r="6.9"/><circle cx="271.35" cy="835.4" r="6.9"/><circle cx="292.9" cy="770.5" r="6.9"/><circle cx="314.45" cy="775.8" r="6.9"/><circle cx="335.99" cy="816.4" r="6.9"/><circle cx="357.54" cy="794.5" r="6.9"/><circle cx="379.09" cy="765" r="6.9"/><circle cx="400.63" cy="751.2" r="6.9"/><circle cx="422.18" cy="741.4" r="6.9"/><circle cx="443.73" cy="733.3" r="6.9"/><circle cx="465.27" cy="681.9" r="6.9"/><circle cx="486.82" cy="666.9" r="6.9"/><circle cx="508.37" cy="714.9" r="6.9"/><circle cx="529.91" cy="755.2" r="6.9"/><circle cx="551.46" cy="778.3" r="6.9"/><circle cx="573.01" cy="746.5" r="6.9"/><circle cx="594.55" cy="754.3" r="6.9"/><circle cx="616.1" cy="790.4" r="6.9"/></g><g font-size="29.3" fill="#000"><clipPath id="k2"><path clip-rule="evenodd" d="M0 0H2017V1016H0ZM79.14 930.51H85.03V934.9H79.14ZM87.72 930.51H93.37V934.9H87.72Z"/></clipPath><text x="110.3" y="934.1" text-anchor="end" clip-path="url(#k2)">0.12</text><clipPath id="k3"><path clip-rule="evenodd" d="M0 0H2017V1016H0ZM79.14 873.08H85.03V877.47H79.14ZM87.72 873.08H93.37V877.47H87.72Z"/></clipPath><text x="110.3" y="876.67" text-anchor="end" clip-path="url(#k3)">0.14</text><clipPath id="k4"><path clip-rule="evenodd" d="M0 0H2017V1016H0ZM79.14 815.65H85.03V820.04H79.14ZM87.72 815.65H93.37V820.04H87.72Z"/></clipPath><text x="110.3" y="819.24" text-anchor="end" clip-path="url(#k4)">0.16</text><clipPath id="k5"><path clip-rule="evenodd" d="M0 0H2017V1016H0ZM79.14 758.22H85.03V762.61H79.14ZM87.72 758.22H93.37V762.61H87.72Z"/></clipPath><text x="110.3" y="761.81" text-anchor="end" clip-path="url(#k5)">0.18</text><text x="110.3" y="704.38" text-anchor="end">0.20</text><text x="110.3" y="646.95" text-anchor="end">0.22</text><text x="110.3" y="589.52" text-anchor="end">0.24</text><text x="131.3" y="968.7" text-anchor="middle">0</text><text x="262.48" y="968.7" text-anchor="middle">0.2</text><text x="391.76" y="968.7" text-anchor="middle">0.4</text><text x="521.04" y="968.7" text-anchor="middle">0.6</text><text x="650.32" y="968.7" text-anchor="middle">0.8</text><text x="389.85" y="1009.8" text-anchor="middle">age</text></g><text x="-1.2" y="574.8" font-size="38.5" font-weight="bold" fill="#231f20">d</text><text transform="translate(42.6 828.43) rotate(-90)" font-size="29.3" fill="#000" textLength="152.7" lengthAdjust="spacing">dL/dt (&#956;m/h)</text></g><g id="pe"><path d="M816.2 767.5 L1289.5 767.5" fill="none" stroke="#951a1e" stroke-width="9.2" stroke-linecap="round" stroke-linejoin="round"/><path d="M805.4 576.1 V936.8 M791.2 922.6 H1322.5 M791.2 922.6 H805.4 M791.2 865.12 H805.4 M791.2 807.64 H805.4 M791.2 750.16 H805.4 M791.2 692.68 H805.4 M791.2 635.2 H805.4 M791.2 577.72 H805.4 M805.4 922.6 V936.8 M934.68 922.6 V936.8 M1063.96 922.6 V936.8 M1193.24 922.6 V936.8 M1322.52 922.6 V936.8" fill="none" stroke="#000" stroke-width="3.2"/><path d="M816.17 715.5 V745.15 M816.17 762.25 V791.3 M807.97 715.5 H824.37 M807.97 791.3 H824.37 M837.72 688.8 V716.25 M837.72 733.35 V760.2 M829.52 688.8 H845.92 M829.52 760.2 H845.92 M859.27 687 V707.95 M859.27 725.05 V745.8 M851.07 687 H867.47 M851.07 745.8 H867.47 M880.81 702.1 V722.55 M880.81 739.65 V760.2 M872.61 702.1 H889.01 M872.61 760.2 H889.01 M902.36 712.6 V738.25 M902.36 755.35 V780.9 M894.16 712.6 H910.56 M894.16 780.9 H910.56 M923.91 704.5 V731.55 M923.91 748.65 V775.9 M915.71 704.5 H932.11 M915.71 775.9 H932.11 M945.45 714.5 V737.85 M945.45 754.95 V778.3 M937.25 714.5 H953.65 M937.25 778.3 H953.65 M967 720.6 V746.95 M967 764.05 V790.1 M958.8 720.6 H975.2 M958.8 790.1 H975.2 M988.55 767.5 V788.65 M988.55 805.75 V827.1 M980.35 767.5 H996.75 M980.35 827.1 H996.75 M1010.09 743.1 V764.45 M1010.09 781.55 V802.5 M1001.89 743.1 H1018.29 M1001.89 802.5 H1018.29 M1031.64 741.5 V764.45 M1031.64 781.55 V804.5 M1023.44 741.5 H1039.84 M1023.44 804.5 H1039.84 M1053.19 741.5 V759.15 M1053.19 776.25 V793.1 M1044.99 741.5 H1061.39 M1044.99 793.1 H1061.39 M1074.73 772 V793.55 M1074.73 810.65 V832.6 M1066.53 772 H1082.93 M1066.53 832.6 H1082.93 M1096.28 746.4 V767.95 M1096.28 785.05 V806.4 M1088.08 746.4 H1104.48 M1088.08 806.4 H1104.48 M1117.83 692.6 V713.55 M1117.83 730.65 V751.6 M1109.63 692.6 H1126.03 M1109.63 751.6 H1126.03 M1139.37 699.5 V718.05 M1139.37 735.15 V753.7 M1131.17 699.5 H1147.57 M1131.17 753.7 H1147.57 M1160.92 685.5 V705.05 M1160.92 722.15 V742.8 M1152.72 685.5 H1169.12 M1152.72 742.8 H1169.12 M1182.47 709.3 V734.95 M1182.47 752.05 V778.1 M1174.27 709.3 H1190.67 M1174.27 778.1 H1190.67 M1204.01 703.9 V731.05 M1204.01 748.15 V775.7 M1195.81 703.9 H1212.21 M1195.81 775.7 H1212.21 M1225.56 661.7 V693.15 M1225.56 710.25 V741.3 M1217.36 661.7 H1233.76 M1217.36 741.3 H1233.76 M1247.11 719 V745.15 M1247.11 762.25 V788.3 M1238.91 719 H1255.31 M1238.91 788.3 H1255.31 M1268.65 781.2 V804.05 M1268.65 821.15 V843.5 M1260.45 781.2 H1276.85 M1260.45 843.5 H1276.85 M1290.2 721.6 V745.55 M1290.2 762.65 V786.8 M1282 721.6 H1298.4 M1282 786.8 H1298.4" fill="none" stroke="#000" stroke-width="3.3"/><g fill="#92c0c2"><circle cx="816.17" cy="753.7" r="6.9"/><circle cx="837.72" cy="724.8" r="6.9"/><circle cx="859.27" cy="716.5" r="6.9"/><circle cx="880.81" cy="731.1" r="6.9"/><circle cx="902.36" cy="746.8" r="6.9"/><circle cx="923.91" cy="740.1" r="6.9"/><circle cx="945.45" cy="746.4" r="6.9"/><circle cx="967" cy="755.5" r="6.9"/><circle cx="988.55" cy="797.2" r="6.9"/><circle cx="1010.09" cy="773" r="6.9"/><circle cx="1031.64" cy="773" r="6.9"/><circle cx="1053.19" cy="767.7" r="6.9"/><circle cx="1074.73" cy="802.1" r="6.9"/><circle cx="1096.28" cy="776.5" r="6.9"/><circle cx="1117.83" cy="722.1" r="6.9"/><circle cx="1139.37" cy="726.6" r="6.9"/><circle cx="1160.92" cy="713.6" r="6.9"/><circle cx="1182.47" cy="743.5" r="6.9"/><circle cx="1204.01" cy="739.6" r="6.9"/><circle cx="1225.56" cy="701.7" r="6.9"/><circle cx="1247.11" cy="753.7" r="6.9"/><circle cx="1268.65" cy="812.6" r="6.9"/><circle cx="1290.2" cy="754.1" r="6.9"/></g><clipPath id="cpe"><circle cx="816.17" cy="753.7" r="6.9"/><circle cx="837.72" cy="724.8" r="6.9"/><circle cx="859.27" cy="716.5" r="6.9"/><circle cx="880.81" cy="731.1" r="6.9"/><circle cx="902.36" cy="746.8" r="6.9"/><circle cx="923.91" cy="740.1" r="6.9"/><circle cx="945.45" cy="746.4" r="6.9"/><circle cx="967" cy="755.5" r="6.9"/><circle cx="988.55" cy="797.2" r="6.9"/><circle cx="1010.09" cy="773" r="6.9"/><circle cx="1031.64" cy="773" r="6.9"/><circle cx="1053.19" cy="767.7" r="6.9"/><circle cx="1074.73" cy="802.1" r="6.9"/><circle cx="1096.28" cy="776.5" r="6.9"/><circle cx="1117.83" cy="722.1" r="6.9"/><circle cx="1139.37" cy="726.6" r="6.9"/><circle cx="1160.92" cy="713.6" r="6.9"/><circle cx="1182.47" cy="743.5" r="6.9"/><circle cx="1204.01" cy="739.6" r="6.9"/><circle cx="1225.56" cy="701.7" r="6.9"/><circle cx="1247.11" cy="753.7" r="6.9"/><circle cx="1268.65" cy="812.6" r="6.9"/><circle cx="1290.2" cy="754.1" r="6.9"/></clipPath><path d="M816.2 767.5 L1289.5 767.5" fill="none" stroke="#866858" stroke-width="9.2" stroke-linecap="round" clip-path="url(#cpe)"/><g fill="none" stroke="#000" stroke-width="4.3"><circle cx="816.17" cy="753.7" r="6.9"/><circle cx="837.72" cy="724.8" r="6.9"/><circle cx="859.27" cy="716.5" r="6.9"/><circle cx="880.81" cy="731.1" r="6.9"/><circle cx="902.36" cy="746.8" r="6.9"/><circle cx="923.91" cy="740.1" r="6.9"/><circle cx="945.45" cy="746.4" r="6.9"/><circle cx="967" cy="755.5" r="6.9"/><circle cx="988.55" cy="797.2" r="6.9"/><circle cx="1010.09" cy="773" r="6.9"/><circle cx="1031.64" cy="773" r="6.9"/><circle cx="1053.19" cy="767.7" r="6.9"/><circle cx="1074.73" cy="802.1" r="6.9"/><circle cx="1096.28" cy="776.5" r="6.9"/><circle cx="1117.83" cy="722.1" r="6.9"/><circle cx="1139.37" cy="726.6" r="6.9"/><circle cx="1160.92" cy="713.6" r="6.9"/><circle cx="1182.47" cy="743.5" r="6.9"/><circle cx="1204.01" cy="739.6" r="6.9"/><circle cx="1225.56" cy="701.7" r="6.9"/><circle cx="1247.11" cy="753.7" r="6.9"/><circle cx="1268.65" cy="812.6" r="6.9"/><circle cx="1290.2" cy="754.1" r="6.9"/></g><g font-size="29.3" fill="#000"><text x="787" y="931.9" text-anchor="end">0.08</text><clipPath id="k6"><path clip-rule="evenodd" d="M0 0H2017V1016H0ZM755.84 870.83H761.73V875.22H755.84ZM764.42 870.83H770.07V875.22H764.42Z"/></clipPath><text x="787" y="874.42" text-anchor="end" clip-path="url(#k6)">0.10</text><clipPath id="k7"><path clip-rule="evenodd" d="M0 0H2017V1016H0ZM755.84 813.35H761.73V817.74H755.84ZM764.42 813.35H770.07V817.74H764.42Z"/></clipPath><text x="787" y="816.94" text-anchor="end" clip-path="url(#k7)">0.12</text><clipPath id="k8"><path clip-rule="evenodd" d="M0 0H2017V1016H0ZM755.84 755.87H761.73V760.26H755.84ZM764.42 755.87H770.07V760.26H764.42Z"/></clipPath><text x="787" y="759.46" text-anchor="end" clip-path="url(#k8)">0.14</text><clipPath id="k9"><path clip-rule="evenodd" d="M0 0H2017V1016H0ZM755.84 698.39H761.73V702.78H755.84ZM764.42 698.39H770.07V702.78H764.42Z"/></clipPath><text x="787" y="701.98" text-anchor="end" clip-path="url(#k9)">0.16</text><clipPath id="k10"><path clip-rule="evenodd" d="M0 0H2017V1016H0ZM755.84 640.91H761.73V645.3H755.84ZM764.42 640.91H770.07V645.3H764.42Z"/></clipPath><text x="787" y="644.5" text-anchor="end" clip-path="url(#k10)">0.18</text><text x="787" y="587.02" text-anchor="end">0.20</text><text x="805.4" y="966.5" text-anchor="middle">0</text><text x="936.58" y="966.5" text-anchor="middle">0.2</text><text x="1065.86" y="966.5" text-anchor="middle">0.4</text><text x="1195.14" y="966.5" text-anchor="middle">0.6</text><text x="1324.42" y="966.5" text-anchor="middle">0.8</text><text x="1063.95" y="1007.6" text-anchor="middle">age</text></g><text x="670" y="574.8" font-size="38.5" font-weight="bold" fill="#231f20">e</text><text transform="translate(716.5 825.73) rotate(-90)" font-size="29.3" fill="#000" textLength="151.6" lengthAdjust="spacing">dL/dt (&#956;m/h)</text></g><g id="pf"><path d="M1490.3 775 L1962.8 775" fill="none" stroke="#951a1e" stroke-width="9.2" stroke-linecap="round" stroke-linejoin="round"/><path d="M1479.5 575.2 V934.8 M1465.3 920.6 H1995.5 M1465.3 920.6 H1479.5 M1465.3 863.3 H1479.5 M1465.3 806 H1479.5 M1465.3 748.7 H1479.5 M1465.3 691.4 H1479.5 M1465.3 634.1 H1479.5 M1465.3 576.8 H1479.5 M1479.5 920.6 V934.8 M1608.5 920.6 V934.8 M1737.5 920.6 V934.8 M1866.5 920.6 V934.8 M1995.5 920.6 V934.8" fill="none" stroke="#000" stroke-width="3.2"/><path d="M1490.25 756.4 V776.75 M1490.25 793.85 V813.9 M1482.05 756.4 H1498.45 M1482.05 813.9 H1498.45 M1511.75 729.3 V753.35 M1511.75 770.45 V794.4 M1503.55 729.3 H1519.95 M1503.55 794.4 H1519.95 M1533.25 732.4 V754.75 M1533.25 771.85 V793.8 M1525.05 732.4 H1541.45 M1525.05 793.8 H1541.45 M1554.75 748.5 V768.55 M1554.75 785.65 V806 M1546.55 748.5 H1562.95 M1546.55 806 H1562.95 M1576.25 742.3 V765.55 M1576.25 782.65 V805.2 M1568.05 742.3 H1584.45 M1568.05 805.2 H1584.45 M1597.75 776.7 V795.45 M1597.75 812.55 V831.8 M1589.55 776.7 H1605.95 M1589.55 831.8 H1605.95 M1619.25 773.7 V800.05 M1619.25 817.15 V843.6 M1611.05 773.7 H1627.45 M1611.05 843.6 H1627.45 M1640.75 748 V772.25 M1640.75 789.35 V813.9 M1632.55 748 H1648.95 M1632.55 813.9 H1648.95 M1662.25 732.2 V758.65 M1662.25 775.75 V802.1 M1654.05 732.2 H1670.45 M1654.05 802.1 H1670.45 M1683.75 721.4 V742.35 M1683.75 759.45 V780 M1675.55 721.4 H1691.95 M1675.55 780 H1691.95 M1705.25 713.5 V735.05 M1705.25 752.15 V773.5 M1697.05 713.5 H1713.45 M1697.05 773.5 H1713.45 M1726.75 724.5 V747.85 M1726.75 764.95 V787.9 M1718.55 724.5 H1734.95 M1718.55 787.9 H1734.95 M1748.25 739.1 V761.65 M1748.25 778.75 V801.1 M1740.05 739.1 H1756.45 M1740.05 801.1 H1756.45 M1769.75 744.2 V765.15 M1769.75 782.25 V802.3 M1761.55 744.2 H1777.95 M1761.55 802.3 H1777.95 M1791.25 729.8 V753.65 M1791.25 770.75 V794.7 M1783.05 729.8 H1799.45 M1783.05 794.7 H1799.45 M1812.75 738.3 V763.35 M1812.75 780.45 V805.4 M1804.55 738.3 H1820.95 M1804.55 805.4 H1820.95 M1834.25 768.6 V791.25 M1834.25 808.35 V830.8 M1826.05 768.6 H1842.45 M1826.05 830.8 H1842.45 M1855.75 751.8 V777.85 M1855.75 794.95 V821 M1847.55 751.8 H1863.95 M1847.55 821 H1863.95 M1877.25 689.4 V713.55 M1877.25 730.65 V754.6 M1869.05 689.4 H1885.45 M1869.05 754.6 H1885.45 M1898.75 684.6 V707.45 M1898.75 724.55 V746.8 M1890.55 684.6 H1906.95 M1890.55 746.8 H1906.95 M1920.25 728.4 V751.45 M1920.25 768.55 V791.4 M1912.05 728.4 H1928.45 M1912.05 791.4 H1928.45 M1941.75 761.5 V780.45 M1941.75 797.55 V816.3 M1933.55 761.5 H1949.95 M1933.55 816.3 H1949.95 M1963.25 729.5 V751.45 M1963.25 768.55 V791.2 M1955.05 729.5 H1971.45 M1955.05 791.2 H1971.45" fill="none" stroke="#000" stroke-width="3.3"/><g fill="#92c0c2"><circle cx="1490.25" cy="785.3" r="6.9"/><circle cx="1511.75" cy="761.9" r="6.9"/><circle cx="1533.25" cy="763.3" r="6.9"/><circle cx="1554.75" cy="777.1" r="6.9"/><circle cx="1576.25" cy="774.1" r="6.9"/><circle cx="1597.75" cy="804" r="6.9"/><circle cx="1619.25" cy="808.6" r="6.9"/><circle cx="1640.75" cy="780.8" r="6.9"/><circle cx="1662.25" cy="767.2" r="6.9"/><circle cx="1683.75" cy="750.9" r="6.9"/><circle cx="1705.25" cy="743.6" r="6.9"/><circle cx="1726.75" cy="756.4" r="6.9"/><circle cx="1748.25" cy="770.2" r="6.9"/><circle cx="1769.75" cy="773.7" r="6.9"/><circle cx="1791.25" cy="762.2" r="6.9"/><circle cx="1812.75" cy="771.9" r="6.9"/><circle cx="1834.25" cy="799.8" r="6.9"/><circle cx="1855.75" cy="786.4" r="6.9"/><circle cx="1877.25" cy="722.1" r="6.9"/><circle cx="1898.75" cy="716" r="6.9"/><circle cx="1920.25" cy="760" r="6.9"/><circle cx="1941.75" cy="789" r="6.9"/><circle cx="1963.25" cy="760" r="6.9"/></g><clipPath id="cpf"><circle cx="1490.25" cy="785.3" r="6.9"/><circle cx="1511.75" cy="761.9" r="6.9"/><circle cx="1533.25" cy="763.3" r="6.9"/><circle cx="1554.75" cy="777.1" r="6.9"/><circle cx="1576.25" cy="774.1" r="6.9"/><circle cx="1597.75" cy="804" r="6.9"/><circle cx="1619.25" cy="808.6" r="6.9"/><circle cx="1640.75" cy="780.8" r="6.9"/><circle cx="1662.25" cy="767.2" r="6.9"/><circle cx="1683.75" cy="750.9" r="6.9"/><circle cx="1705.25" cy="743.6" r="6.9"/><circle cx="1726.75" cy="756.4" r="6.9"/><circle cx="1748.25" cy="770.2" r="6.9"/><circle cx="1769.75" cy="773.7" r="6.9"/><circle cx="1791.25" cy="762.2" r="6.9"/><circle cx="1812.75" cy="771.9" r="6.9"/><circle cx="1834.25" cy="799.8" r="6.9"/><circle cx="1855.75" cy="786.4" r="6.9"/><circle cx="1877.25" cy="722.1" r="6.9"/><circle cx="1898.75" cy="716" r="6.9"/><circle cx="1920.25" cy="760" r="6.9"/><circle cx="1941.75" cy="789" r="6.9"/><circle cx="1963.25" cy="760" r="6.9"/></clipPath><path d="M1490.3 775 L1962.8 775" fill="none" stroke="#866858" stroke-width="9.2" stroke-linecap="round" clip-path="url(#cpf)"/><g fill="none" stroke="#000" stroke-width="4.3"><circle cx="1490.25" cy="785.3" r="6.9"/><circle cx="1511.75" cy="761.9" r="6.9"/><circle cx="1533.25" cy="763.3" r="6.9"/><circle cx="1554.75" cy="777.1" r="6.9"/><circle cx="1576.25" cy="774.1" r="6.9"/><circle cx="1597.75" cy="804" r="6.9"/><circle cx="1619.25" cy="808.6" r="6.9"/><circle cx="1640.75" cy="780.8" r="6.9"/><circle cx="1662.25" cy="767.2" r="6.9"/><circle cx="1683.75" cy="750.9" r="6.9"/><circle cx="1705.25" cy="743.6" r="6.9"/><circle cx="1726.75" cy="756.4" r="6.9"/><circle cx="1748.25" cy="770.2" r="6.9"/><circle cx="1769.75" cy="773.7" r="6.9"/><circle cx="1791.25" cy="762.2" r="6.9"/><circle cx="1812.75" cy="771.9" r="6.9"/><circle cx="1834.25" cy="799.8" r="6.9"/><circle cx="1855.75" cy="786.4" r="6.9"/><circle cx="1877.25" cy="722.1" r="6.9"/><circle cx="1898.75" cy="716" r="6.9"/><circle cx="1920.25" cy="760" r="6.9"/><circle cx="1941.75" cy="789" r="6.9"/><circle cx="1963.25" cy="760" r="6.9"/></g><g font-size="29.3" fill="#000"><text x="1458.2" y="929.9" text-anchor="end">0.08</text><clipPath id="k11"><path clip-rule="evenodd" d="M0 0H2017V1016H0ZM1427.04 869.01H1432.93V873.4H1427.04ZM1435.62 869.01H1441.27V873.4H1435.62Z"/></clipPath><text x="1458.2" y="872.6" text-anchor="end" clip-path="url(#k11)">0.10</text><clipPath id="k12"><path clip-rule="evenodd" d="M0 0H2017V1016H0ZM1427.04 811.71H1432.93V816.1H1427.04ZM1435.62 811.71H1441.27V816.1H1435.62Z"/></clipPath><text x="1458.2" y="815.3" text-anchor="end" clip-path="url(#k12)">0.12</text><clipPath id="k13"><path clip-rule="evenodd" d="M0 0H2017V1016H0ZM1427.04 754.41H1432.93V758.8H1427.04ZM1435.62 754.41H1441.27V758.8H1435.62Z"/></clipPath><text x="1458.2" y="758" text-anchor="end" clip-path="url(#k13)">0.14</text><clipPath id="k14"><path clip-rule="evenodd" d="M0 0H2017V1016H0ZM1427.04 697.11H1432.93V701.5H1427.04ZM1435.62 697.11H1441.27V701.5H1435.62Z"/></clipPath><text x="1458.2" y="700.7" text-anchor="end" clip-path="url(#k14)">0.16</text><clipPath id="k15"><path clip-rule="evenodd" d="M0 0H2017V1016H0ZM1427.04 639.81H1432.93V644.2H1427.04ZM1435.62 639.81H1441.27V644.2H1435.62Z"/></clipPath><text x="1458.2" y="643.4" text-anchor="end" clip-path="url(#k15)">0.18</text><text x="1458.2" y="586.1" text-anchor="end">0.20</text><text x="1479.5" y="964.5" text-anchor="middle">0</text><text x="1610.4" y="964.5" text-anchor="middle">0.2</text><text x="1739.4" y="964.5" text-anchor="middle">0.4</text><text x="1868.4" y="964.5" text-anchor="middle">0.6</text><text x="1997.4" y="964.5" text-anchor="middle">0.8</text><text x="1737.5" y="1005.6" text-anchor="middle">age</text></g><text x="1348" y="574.8" font-size="38.5" font-weight="bold" fill="#231f20">f</text><text transform="translate(1389.1 824.83) rotate(-90)" font-size="29.3" fill="#000" textLength="151.6" lengthAdjust="spacing">dL/dt (&#956;m/h)</text></g></svg></body></html>
